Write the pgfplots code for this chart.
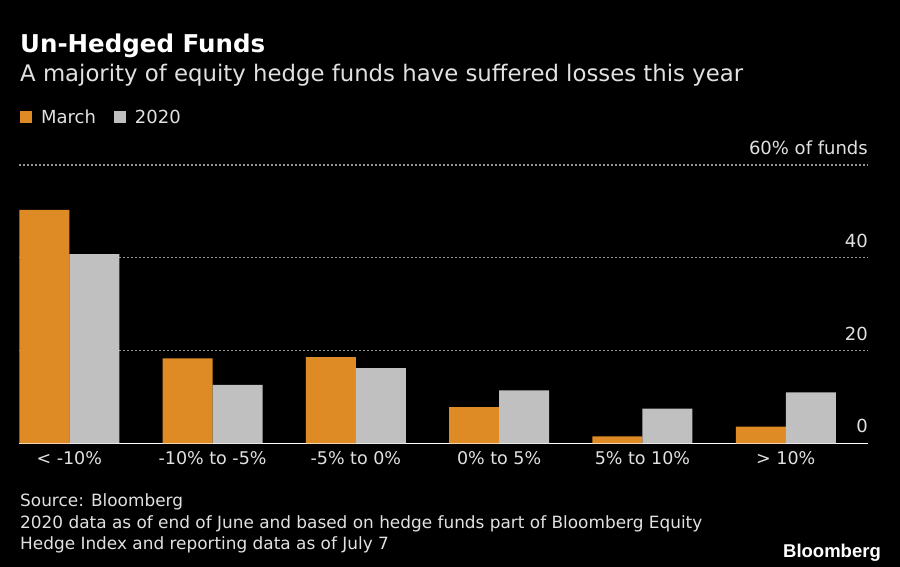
\documentclass[border=0pt]{standalone}
\usepackage{pgfplots}
\pgfplotsset{compat=1.18}
\usepackage{fontspec}
\setmainfont{DejaVu Sans}
\newfontfamily\logofont{Liberation Sans}
\definecolor{bgorange}{RGB}{222,138,37}
\definecolor{bggrey}{RGB}{192,192,192}
\definecolor{txt}{RGB}{225,225,225}
\definecolor{gridc}{RGB}{150,150,150}
\begin{document}
\begin{tikzpicture}[x=1pt,y=1pt]
\fill[black] (0,0) rectangle (900,567);
\useasboundingbox (0,0) rectangle (900,567);
\node[anchor=base west, inner sep=0pt, text=white, font=\fontsize{24.5}{28}\selectfont\bfseries] at (20,514.7) {Un-Hedged Funds};
\node[anchor=base west, inner sep=0pt, text=txt, font=\fontsize{22.8}{26}\selectfont] at (20,485.3) {A majority of equity hedge funds have suffered losses this year};
\begin{axis}[
  at={(19pt,123.7pt)}, anchor=south west,
  scale only axis, width=849pt, height=278.3pt,
  xmin=-0.351, xmax=5.574, ymin=0, ymax=60,
  ybar=0pt, bar width=50pt,
  axis x line*=bottom, axis y line*=right,
  x axis line style={white, line width=1.2pt, -},
  y axis line style={draw=none},
  major tick length=0pt,
  xtick={0,1,2,3,4,5},
  xticklabels={{< -10\%},{-10\% to -5\%},{-5\% to 0\%},{0\% to 5\%},{5\% to 10\%},{> 10\%}},
  xticklabel style={text=txt, font=\fontsize{17.5}{20}\selectfont, yshift=-5pt},
  ytick={0,20,40,60},
  yticklabels={0,20,40,{60\% of funds}},
  yticklabel pos=right,
  yticklabel style={text=txt, font=\fontsize{18}{21}\selectfont, anchor=south east, inner sep=0pt, yshift=10pt},
  /pgf/number format/assume math mode=true,
  ymajorgrids, grid style={gridc, line width=1.1pt, dash pattern=on 2pt off 2pt},
  legend columns=2,
  legend style={draw=none, fill=none, text=txt, font=\fontsize{18}{20}\selectfont,
    at={(axis description cs:0.001,1.1707)}, anchor=west, inner sep=0pt,
    nodes={inner sep=0pt},
    /tikz/every odd column/.append style={column sep=9pt},
    /tikz/every even column/.append style={column sep=18pt}},
  legend image code/.code={\fill[#1] (0pt,-6pt) rectangle (12pt,6pt);},
]
\addplot[fill=bgorange, draw=none] coordinates {(0,50.3) (1,18.3) (2,18.6) (3,7.8) (4,1.5) (5,3.6)};
\addplot[fill=bggrey, draw=none] coordinates {(0,40.8) (1,12.6) (2,16.2) (3,11.4) (4,7.5) (5,11.0)};
\legend{March,2020}
\end{axis}
\node[anchor=base west, inner sep=0pt, text=txt, font=\fontsize{16.9}{19}\selectfont] at (20,60.3) {Source: Bloomberg};
\node[anchor=base west, inner sep=0pt, text=txt, font=\fontsize{16.9}{19}\selectfont] at (20,38.7) {2020 data as of end of June and based on hedge funds part of Bloomberg Equity};
\node[anchor=base west, inner sep=0pt, text=txt, font=\fontsize{16.9}{19}\selectfont] at (20,17) {Hedge Index and reporting data as of July 7};
\node[anchor=base east, inner sep=0pt, text=white, font=\logofont\fontsize{18.5}{21}\selectfont\bfseries] at (881,9) {Bloomberg};
\end{tikzpicture}
\end{document}
